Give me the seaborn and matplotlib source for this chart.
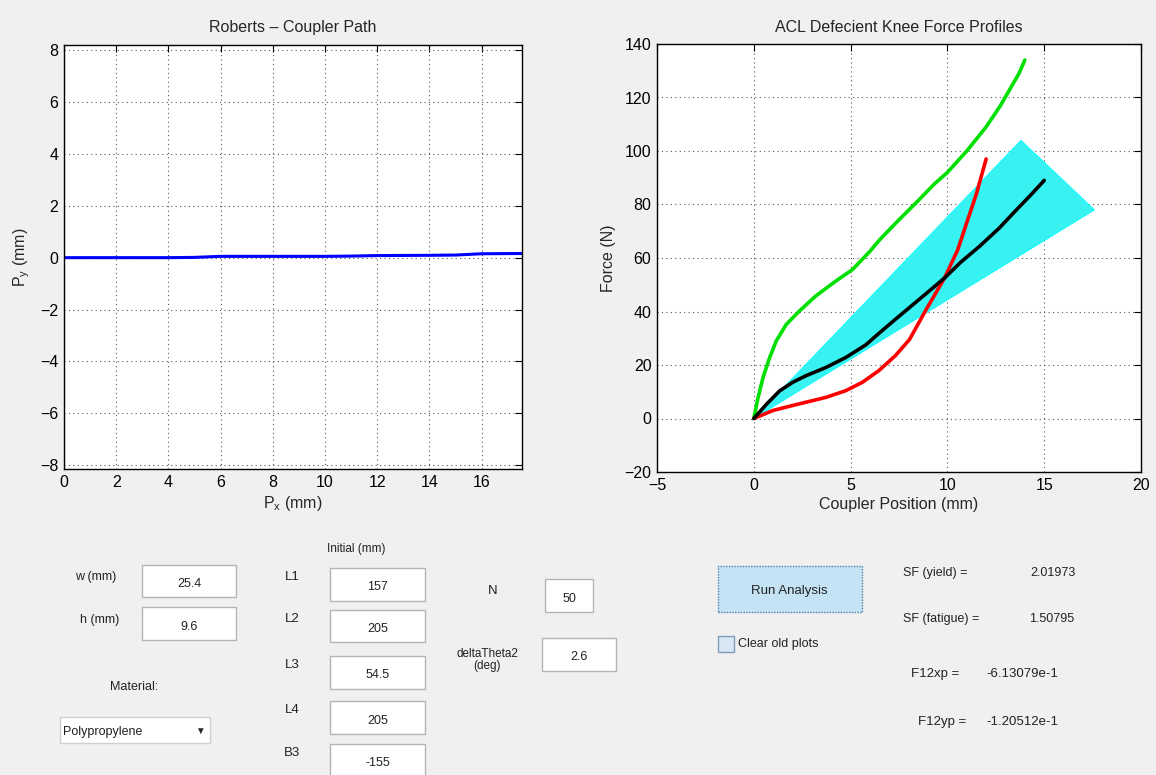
import matplotlib
matplotlib.use('Agg')

import matplotlib.pyplot as plt
from matplotlib.patches import Rectangle
import pandas as pd
import seaborn as sns

# coupler path (Roberts linkage), mm
path_x = [0, 2, 4, 5, 6, 8, 10, 11, 12, 14, 15, 16, 17.6]
path_y = [0, 0, 0, 0.01, 0.05, 0.05, 0.05, 0.06, 0.08, 0.09, 0.1, 0.15, 0.16]

# force profiles: coupler position (mm) vs force (N)
green_x = [0, 0.22, 0.48, 0.82, 1.16, 1.68, 2.36, 3.2, 4.24, 5.1, 6, 6.5, 7.5, 8.5, 9.3, 10,
           11, 11.5, 12, 12.7, 13.3, 13.7, 14]
green_y = [0, 7.8, 15.4, 22.8, 29, 35.2, 40.2, 45.8, 51.4, 55.7, 62.5, 66.8, 74.3, 81.5,
           87.5, 92, 100, 104.5, 109, 116.5, 124, 129, 134]

black_x = [0, 0.65, 1.33, 2, 2.7, 3.73, 4.75, 5.78, 6.49, 7.3, 8.21, 9.0, 9.85, 10.7, 11.65,
           12.68, 13.5, 14.3, 15]
black_y = [0, 5.3, 10.3, 13.5, 16, 19.1, 22.8, 27.5, 32, 37, 42.5, 47.3, 52.5, 58.5, 64.3,
           71.2, 77.5, 83.5, 89]

red_x = [0, 0.99, 2.36, 3.73, 4.75, 5.6, 6.46, 7.3, 8.04, 8.9, 9.85, 10.53, 11.05, 11.5, 12]
red_y = [0, 3, 5.5, 7.9, 10.4, 13.5, 17.9, 23.4, 29.5, 40.7, 52.5, 63, 74.3, 84, 97]

# cyan fan of force lines (outline: origin and the two outer tips)
fan_x = [0, 13.8, 17.6]
fan_y = [0, 104, 78]

# gui field values
w_mm, h_mm = "25.4", "9.6"
links = [("L1", "157"), ("L2", "205"), ("L3", "54.5"), ("L4", "205"), ("B3", "-155")]
n_steps, delta_theta = "50", "2.6"
material = "Polypropylene"
sf_yield, sf_fatigue = "2.01973", "1.50795"
f12xp, f12yp = "-6.13079e-1", "-1.20512e-1"

W, H = 1156, 775
BG = '#f0f0f0'

sns.set_theme(style="white")
plt.rcParams['font.family'] = ['Liberation Sans', 'DejaVu Sans']
plt.rcParams['axes.unicode_minus'] = True


def fx(x):
    return x / W


def fy(y):
    return 1 - y / H


def style_axes(ax):
    ax.set_facecolor('white')
    for s in ax.spines.values():
        s.set_color('black')
        s.set_linewidth(1.0)
    ax.tick_params(direction='in', top=True, right=True, length=5, width=0.8,
                   labelsize=11.5, colors='black', pad=4)
    ax.grid(True, linestyle=(0, (1, 3)), color='0.35', linewidth=0.8)


fig = plt.figure(figsize=(W / 100, H / 100), dpi=100, facecolor=BG)

# left: coupler path
ax1 = fig.add_axes([fx(64), fy(469), fx(522 - 64), (469 - 45) / H])
style_axes(ax1)
sns.lineplot(data=pd.DataFrame({"x": path_x, "y": path_y}), x="x", y="y",
             sort=False, color='#0000ff', linewidth=2.2, ax=ax1)
ax1.set_xlim(0, 17.55)
ax1.set_ylim(-8.15, 8.2)
ax1.set_xticks(range(0, 17, 2))
ax1.set_yticks(range(-8, 9, 2))
ax1.set_title("Roberts \u2013 Coupler Path", fontsize=11.5, pad=9)
ax1.set_xlabel(r"P$_\mathregular{x}$ (mm)", fontsize=11.5, labelpad=3)
ax1.set_ylabel(r"P$_\mathregular{y}$ (mm)", fontsize=11.5, labelpad=6)

# right: force profiles
ax2 = fig.add_axes([fx(657), fy(472), fx(1141 - 657), (472 - 44) / H])
style_axes(ax2)
ax2.fill(fan_x, fan_y, color='#38f2f2', linewidth=0.6, edgecolor='#00ffff', zorder=2)
for xs, ys, c in [(green_x, green_y, '#00e000'), (red_x, red_y, '#ff0000'),
                  (black_x, black_y, 'black')]:
    sns.lineplot(data=pd.DataFrame({"x": xs, "y": ys}), x="x", y="y", sort=False,
                 color=c, linewidth=2.6, ax=ax2, zorder=3)
ax2.set_xlim(-5, 20)
ax2.set_ylim(-20, 140)
ax2.set_xticks(range(-5, 21, 5))
ax2.set_yticks(range(-20, 141, 20))
ax2.set_title("ACL Defecient Knee Force Profiles", fontsize=11.5, pad=9)
ax2.set_xlabel("Coupler Position (mm)", fontsize=11.5, labelpad=3)
ax2.set_ylabel("Force (N)", fontsize=11.5, labelpad=6)


# gui controls below the plots
def label(x, y, s, ha='center', size=9, **kw):
    fig.text(fx(x), fy(y), s, ha=ha, va='center', fontsize=size, color='#222222', **kw)


def box(x0, y0, x1, y1, fc='white', ec='#b4b4b4', **kw):
    fig.add_artist(Rectangle((fx(x0), fy(y1)), (x1 - x0) / W, (y1 - y0) / H,
                             transform=fig.transFigure, facecolor=fc, edgecolor=ec,
                             linewidth=1.0, **kw))


def edit(x0, y0, x1, y1, s):
    box(x0, y0, x1, y1)
    label((x0 + x1) / 2, (y0 + y1) / 2 + 3, s)


label(96, 577, "w (mm)")
edit(142, 565, 236, 597, w_mm)
label(100, 620, "h (mm)")
edit(142, 607, 236, 640, h_mm)

label(356, 549, "Initial (mm)", size=8.5)
link_y = [(568, 601), (610, 642), (656, 689), (701, 734), (744, 776)]
for (name, val), (y0, y1) in zip(links, link_y):
    label(292, y0 + 9, name, size=9.5)
    edit(330, y0, 425, y1, val)

label(493, 591, "N", size=9.5)
edit(545, 579, 593, 612, n_steps)
label(487, 660, "deltaTheta2\n(deg)", size=8.5, linespacing=1.1)
edit(542, 638, 616, 671, delta_theta)

label(134, 687, "Material:")
box(60, 717, 210, 743, ec='#d0d0d0')
label(63, 732, material, ha='left')
label(200, 731, "\u25BC", size=7)

box(718, 566, 862, 612, fc='#c4e4f6', ec='#4a7fa8', linestyle=(0, (1, 1)))
label(789, 591, "Run Analysis", size=9.5)
box(718, 636, 734, 652, fc='#d8e7f4', ec='#7f9db9')
label(738, 644, "Clear old plots", ha='left')

label(903, 573, "SF (yield) =", ha='left')
label(1030, 573, sf_yield, ha='left')
label(903, 619, "SF (fatigue) =", ha='left')
label(1029, 619, sf_fatigue, ha='left')
label(911, 674, "F12xp =", ha='left', size=9.5)
label(986, 674, f12xp, ha='left', size=9.5)
label(918, 722, "F12yp =", ha='left', size=9.5)
label(986, 722, f12yp, ha='left', size=9.5)

fig.savefig("out.png", dpi=100, facecolor=BG)
